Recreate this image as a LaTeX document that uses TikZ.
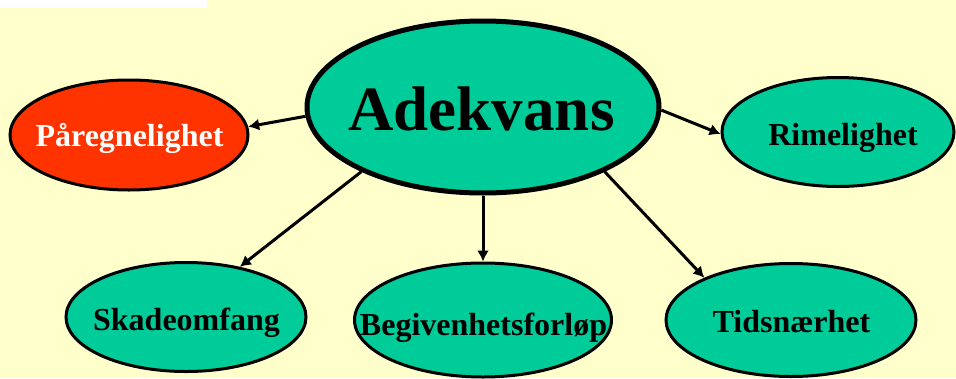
\documentclass[tikz,border=0pt]{standalone}
\usepackage{fontspec}
\setmainfont{Liberation Serif}
\usetikzlibrary{shapes.geometric,arrows.meta}
\definecolor{bgyellow}{HTML}{FFFFCC}
\definecolor{nodegreen}{HTML}{00CC99}
\definecolor{nodered}{HTML}{FF3300}
\tikzset{
  bubble/.style={ellipse, draw=black, line width=3pt, fill=nodegreen, inner sep=0pt},
  mainbubble/.style={bubble, line width=5pt},
  bubbletext/.style={inner sep=0pt, anchor=base, font=\bfseries\fontsize{32}{32}\selectfont, text=black},
  maintext/.style={inner sep=0pt, anchor=base, font=\bfseries\fontsize{63}{63}\selectfont, text=black},
  link/.style={line width=3pt, -{Latex[length=11pt,width=12pt]}}
}
\begin{document}
\begin{tikzpicture}[x=1pt,y=-1pt]
\fill[bgyellow] (0,0) rectangle (956,378);
\useasboundingbox (0,0) rectangle (956,378);
\fill[white] (0,0) rectangle (207,7.5);
\node[mainbubble, minimum width=352pt, minimum height=172pt] (adek) at (483,107) {};
\node[bubble, fill=nodered, minimum width=238pt, minimum height=110pt] (pare) at (129,135) {};
\node[bubble, minimum width=232pt, minimum height=109pt] (rime) at (838,132) {};
\node[bubble, minimum width=240pt, minimum height=109pt] (skad) at (186,317) {};
\node[bubble, minimum width=257pt, minimum height=114pt] (begi) at (483,320) {};
\node[bubble, minimum width=250pt, minimum height=113pt] (tids) at (791,320) {};
\node[maintext] (adekT) at (481.5,130) {Adekvans};
\node[bubbletext, text=white] (pareT) at (129.5,146.5) {Påregnelighet};
\node[bubbletext] (rimeT) at (843,145) {Rimelighet};
\node[bubbletext] (skadT) at (186.5,330) {Skadeomfang};
\node[bubbletext] (begiT) at (483.5,335) {Begivenhetsforløp};
\node[bubbletext] (tidsT) at (791.5,332) {Tidsnærhet};
\draw[link] (adek.183.5) -- (pare.4);
\draw[link] (adek.359) -- (rime.181);
\draw[link] (adek.208) -- (skad.43);
\draw[link] (adek.south) -- (begi.north);
\draw[link] (adek.332.4) -- (tids.154.7);
\end{tikzpicture}
\end{document}
